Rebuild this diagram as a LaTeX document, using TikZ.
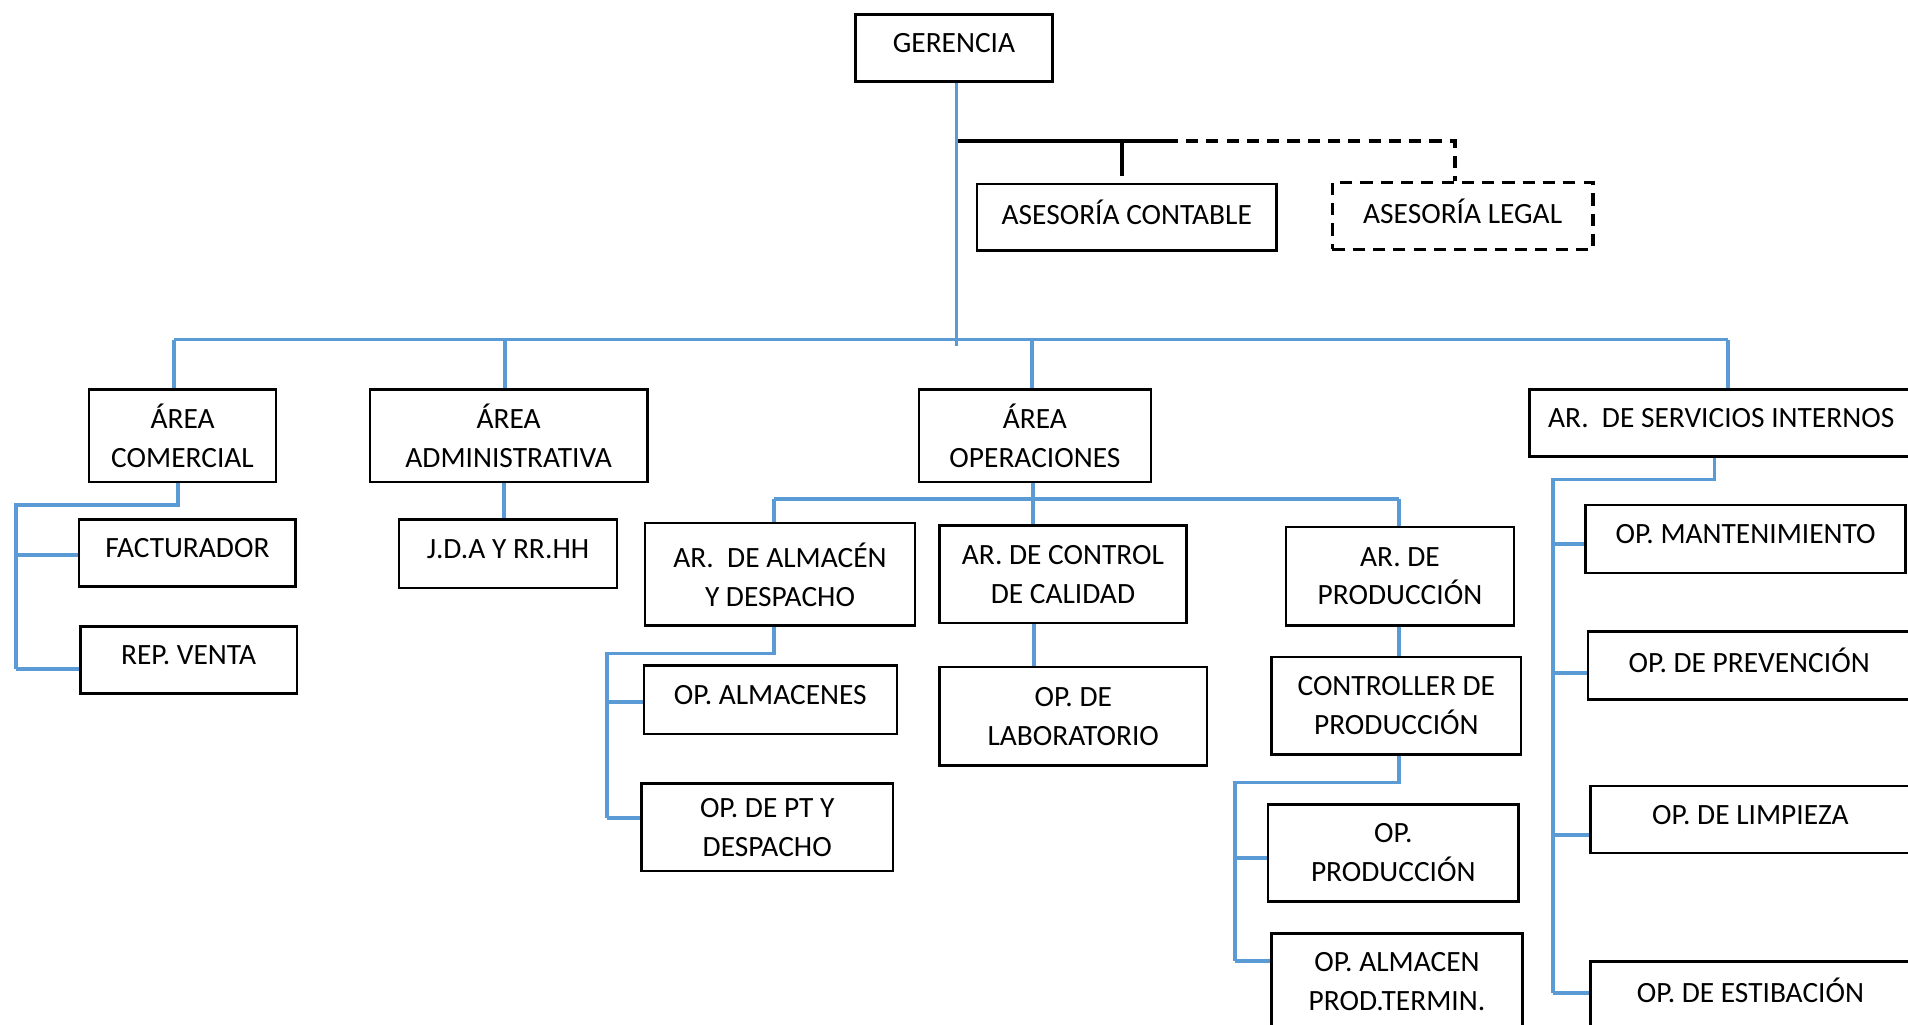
\documentclass[tikz,border=0pt]{standalone}
\usepackage{fontspec}
\setmainfont{Carlito}
\definecolor{linkblue}{HTML}{5B9BD5}
\newcommand\orgfont{\fontsize{14.5}{19.2}\selectfont}
% box from corner (x1,y1) to corner (x2,y2): [options]{name}{x1}{y1}{x2}{y2}{text}
\newcommand\orgbox[7][]{%
  \node[box,#1,minimum width={(#5-#3)*0.6pt},minimum height={(#6-#4)*0.6pt}]
    (#2) at ({(#3+#5)/2},{(#4+#6)/2}) {#7};}
\tikzset{
  box/.style={draw,line width=1.2pt,align=center,inner sep=0pt,font=\orgfont},
  oneline/.style={text depth=0.5em},
  link/.style={draw=linkblue,line width=1.9pt},
  staff/.style={draw=black,line width=1.9pt},
  staffdash/.style={staff,dash pattern=on 6pt off 4pt},
}
\begin{document}
\begin{tikzpicture}[x=0.6pt,y=-0.6pt]
\clip (0,0) rectangle (1568,842);
\fill[white] (0,0) rectangle (1568,842);

% ---- boxes ----
\orgbox[oneline]{ger}{703}{12}{865}{67}{GERENCIA}
\orgbox[oneline]{cont}{803}{151}{1049}{206}{ASESORÍA CONTABLE}
\orgbox[oneline,dash pattern=on 6pt off 4pt,line width=1.9pt]{legal}{1095}{150}{1309}{205}{ASESORÍA LEGAL}

\orgbox{com}{73}{320}{227}{396}{ÁREA\\COMERCIAL}
\orgbox{adm}{304}{320}{532}{396}{ÁREA\\ADMINISTRATIVA}
\orgbox{ope}{755}{320}{946}{396}{ÁREA\\OPERACIONES}
\orgbox[oneline]{serv}{1257}{320}{1572}{375}{AR.\ \ DE SERVICIOS INTERNOS}

\orgbox[oneline]{fac}{65}{427}{243}{482}{FACTURADOR}
\orgbox[oneline]{rep}{66}{515}{244}{570}{REP. VENTA}
\orgbox[oneline]{jda}{328}{427}{507}{483}{J.D.A Y RR.HH}

\orgbox{alm}{530}{430}{752}{514}{AR.\ \ DE ALMACÉN\\Y DESPACHO}
\orgbox{cal}{772}{432}{975}{512}{AR. DE CONTROL\\DE CALIDAD}
\orgbox{prod}{1057}{433}{1244}{514}{AR. DE\\PRODUCCIÓN}

\orgbox[oneline]{opalm}{529}{547}{737}{603}{OP. ALMACENES}
\orgbox{oppt}{527}{644}{734}{716}{OP. DE PT Y\\DESPACHO}
\orgbox{lab}{772}{548}{992}{629}{OP. DE\\LABORATORIO}
\orgbox{ctrl}{1045}{540}{1250}{620}{CONTROLLER DE\\PRODUCCIÓN}
\orgbox{opprod}{1042}{661}{1248}{741}{OP.\\PRODUCCIÓN}
\orgbox{opterm}{1045}{767}{1251}{847}{OP. ALMACEN\\PROD.TERMIN.}

\orgbox[oneline]{mant}{1303}{415}{1566}{471}{OP. MANTENIMIENTO}
\orgbox[oneline]{prev}{1305}{519}{1570}{575}{OP. DE PREVENCIÓN}
\orgbox[oneline]{limp}{1307}{646}{1570}{701}{OP. DE LIMPIEZA}
\orgbox[oneline]{esti}{1307}{790}{1570}{846}{OP. DE ESTIBACIÓN}

% ---- advisory line (staff) ----
\coordinate (adv) at (786,116);
\coordinate (advTick) at (922,116);
\coordinate (advMid) at (958,116);
\coordinate (advCorner) at (1196,116);
\draw[staffdash] (advMid) -- (advCorner) -- (advCorner |- legal.north);
\draw[staff] (adv) -- (advMid);
\draw[staff,shorten >=3pt] (advTick) -- (advTick |- cont.north);

% ---- main trunk and bus ----
\coordinate (trunk) at (786,279);
\coordinate (trunkEnd) at (786,284);
\coordinate (busL) at (143,279);
\coordinate (busR) at (1420,279);
\coordinate (dAdm) at (415,279);
\coordinate (dOpe) at (848,279);
\draw[link] (trunk |- ger.south) -- (trunkEnd);
\draw[link] (busL) -- (busR);
\draw[link] (busL) -- (busL |- com.north);
\draw[link] (dAdm) -- (dAdm |- adm.north);
\draw[link] (dOpe) -- (dOpe |- ope.north);
\draw[link] (busR) -- (busR |- serv.north);

% ---- comercial ----
\coordinate (comElbow) at (146,415);
\coordinate (comRail) at (13,415);
\coordinate (facBr) at (13,456);
\coordinate (repBr) at (13,550);
\draw[link] (comElbow |- com.south) -- (comElbow) -- (comRail) -- (repBr);
\draw[link] (facBr) -- (facBr -| fac.west);
\draw[link] (repBr) -- (repBr -| rep.west);

% ---- administrativa ----
\coordinate (admDrop) at (414,410);
\draw[link] (admDrop |- adm.south) -- (admDrop |- jda.north);

% ---- operaciones ----
\coordinate (opeBus) at (849,410);
\coordinate (opeBusL) at (636,410);
\coordinate (opeBusR) at (1150,410);
\draw[link] (opeBus |- ope.south) -- (opeBus);
\draw[link] (opeBusL) -- (opeBusR);
\draw[link] (opeBusL) -- (opeBusL |- alm.north);
\draw[link] (opeBus) -- (opeBus |- cal.north);
\draw[link] (opeBusR) -- (opeBusR |- prod.north);

% almacén y despacho
\coordinate (almElbow) at (636,537);
\coordinate (almRail) at (499,537);
\coordinate (opalmBr) at (499,577);
\coordinate (opptBr) at (499,672);
\draw[link] (almElbow |- alm.south) -- (almElbow) -- (almRail) -- (opptBr);
\draw[link] (opalmBr) -- (opalmBr -| opalm.west);
\draw[link] (opptBr) -- (opptBr -| oppt.west);

% control de calidad
\coordinate (calDrop) at (850,530);
\draw[link] (calDrop |- cal.south) -- (calDrop |- lab.north);

% producción
\coordinate (prodDrop) at (1150,530);
\draw[link] (prodDrop |- prod.south) -- (prodDrop |- ctrl.north);
\coordinate (ctrlElbow) at (1150,643);
\coordinate (ctrlRail) at (1015,643);
\coordinate (opprodBr) at (1015,705);
\coordinate (optermBr) at (1015,790);
\draw[link] (ctrlElbow |- ctrl.south) -- (ctrlElbow) -- (ctrlRail) -- (optermBr);
\draw[link] (opprodBr) -- (opprodBr -| opprod.west);
\draw[link] (optermBr) -- (optermBr -| opterm.west);

% ---- servicios internos ----
\coordinate (servElbow) at (1409,394);
\coordinate (servRail) at (1276,394);
\coordinate (mantBr) at (1276,447);
\coordinate (prevBr) at (1276,553);
\coordinate (limpBr) at (1276,686);
\coordinate (estiBr) at (1276,816);
\draw[link] (servElbow |- serv.south) -- (servElbow) -- (servRail) -- (estiBr);
\draw[link] (mantBr) -- (mantBr -| mant.west);
\draw[link] (prevBr) -- (prevBr -| prev.west);
\draw[link] (limpBr) -- (limpBr -| limp.west);
\draw[link] (estiBr) -- (estiBr -| esti.west);
\end{tikzpicture}
\end{document}
